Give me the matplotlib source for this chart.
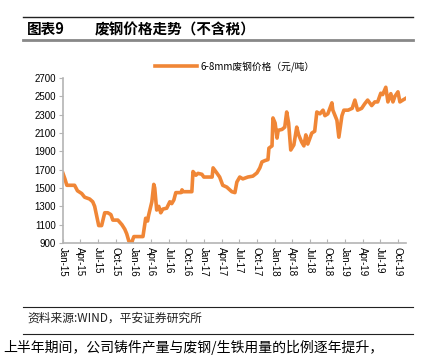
import pandas as pd
import matplotlib.pyplot as plt
import matplotlib.dates as mdates
from matplotlib.lines import Line2D

plt.rcParams['font.family'] = ['Noto Sans CJK SC', 'DejaVu Sans']

# 6-8mm scrap steel price (yuan/ton)
dates = ['2015-01-01', '2015-01-11', '2015-01-21', '2015-03-02', '2015-03-17', '2015-04-08',
         '2015-04-23', '2015-05-19', '2015-06-04', '2015-06-14', '2015-06-24', '2015-07-05',
         '2015-07-20', '2015-08-05', '2015-08-21', '2015-09-06', '2015-09-16', '2015-10-12',
         '2015-11-02', '2015-11-17', '2015-11-27', '2015-12-08', '2015-12-23', '2016-01-03',
         '2016-02-19', '2016-03-04', '2016-03-14', '2016-03-19', '2016-04-05', '2016-04-15',
         '2016-04-20', '2016-04-30', '2016-05-11', '2016-05-21', '2016-06-01', '2016-06-21',
         '2016-07-07', '2016-07-17', '2016-07-28', '2016-08-07', '2016-09-03', '2016-09-08',
         '2016-09-13', '2016-10-29', '2016-11-04', '2016-11-19', '2016-11-30', '2016-12-20',
         '2016-12-30', '2017-02-11', '2017-02-16', '2017-03-07', '2017-03-22', '2017-04-07',
         '2017-04-28', '2017-05-03', '2017-05-24', '2017-06-09', '2017-06-19', '2017-07-04',
         '2017-07-20', '2017-08-15', '2017-09-10', '2017-10-01', '2017-10-16', '2017-10-27',
         '2017-11-12', '2017-11-27', '2017-12-02', '2017-12-18', '2017-12-23', '2018-01-03',
         '2018-01-13', '2018-01-19', '2018-02-08', '2018-02-22', '2018-03-04', '2018-03-14',
         '2018-03-25', '2018-04-10', '2018-04-25', '2018-05-05', '2018-05-21', '2018-06-01',
         '2018-06-11', '2018-06-21', '2018-07-12', '2018-07-27', '2018-08-07', '2018-08-23',
         '2018-09-08', '2018-09-18', '2018-10-03', '2018-10-24', '2018-10-29', '2018-11-19',
         '2018-11-29', '2018-12-15', '2018-12-25', '2019-01-16', '2019-02-06', '2019-02-20',
         '2019-03-06', '2019-03-27', '2019-04-12', '2019-04-27', '2019-05-18', '2019-06-03',
         '2019-06-18', '2019-07-04', '2019-07-14', '2019-07-30', '2019-08-10', '2019-08-25',
         '2019-09-05', '2019-09-15', '2019-10-01', '2019-10-11', '2019-10-26', '2019-11-11']
price = [1660, 1600, 1530, 1530, 1470, 1440,
         1400, 1380, 1350, 1300, 1200, 1090,
         1090, 1230, 1230, 1210, 1150, 1150,
         1100, 1050, 1000, 920, 910, 970,
         970, 1170, 1140, 1200, 1350, 1540,
         1500, 1260, 1300, 1230, 1270, 1280,
         1350, 1330, 1370, 1450, 1450, 1480,
         1460, 1460, 1680, 1640, 1660, 1650,
         1620, 1620, 1720, 1665, 1620, 1530,
         1510, 1500, 1460, 1450, 1565, 1620,
         1600, 1620, 1630, 1665, 1720, 1785,
         1800, 1810, 1935, 1960, 2265, 2210,
         2045, 2130, 2140, 2165, 2330, 2210,
         1915, 1970, 2165, 2080, 2000, 1960,
         2080, 1980, 2100, 2120, 2330, 2310,
         2350, 2290, 2310, 2430, 2350, 2240,
         2055, 2290, 2350, 2350, 2370, 2460,
         2350, 2370, 2420, 2460, 2400, 2440,
         2440, 2535, 2520, 2600, 2440, 2530,
         2440, 2500, 2550, 2440, 2460, 2480]
yticks = [900, 1100, 1300, 1500, 1700, 1900, 2100, 2300, 2500, 2700]
series_name = '6-8mm废钢价格（元/吨）'

x = pd.to_datetime(dates)
orange = '#F08636'
gray = '#b4b4b4'

fig = plt.figure(figsize=(4.27, 3.55), dpi=100)
ax = fig.add_axes([0.1475, 0.3155, 0.8035, 0.4645])
ax.plot(x, price, color=orange, lw=2.6, solid_joinstyle='round')

ax.set_ylim(900, 2700)
ax.set_yticks(yticks)
ax.set_xlim(pd.Timestamp('2015-01-01'), pd.Timestamp('2019-11-12'))
ax.xaxis.set_major_locator(mdates.MonthLocator(bymonth=[1, 4, 7, 10]))
ax.xaxis.set_major_formatter(mdates.DateFormatter('%b-%y'))
for s in ['top', 'right']:
    ax.spines[s].set_visible(False)
for s in ['left', 'bottom']:
    ax.spines[s].set_color(gray)
    ax.spines[s].set_linewidth(1.2)
ax.tick_params(axis='x', direction='in', length=3, color=gray, labelsize=7,
               labelrotation=270, pad=3)
ax.tick_params(axis='y', direction='out', length=3, color=gray, labelsize=7, pad=2)
for lab in ax.get_xticklabels() + ax.get_yticklabels():
    lab.set_family(['Liberation Sans', 'DejaVu Sans'])

ax.legend([Line2D([0], [0], color=orange, lw=2.6)], [series_name],
          loc='center', bbox_to_anchor=(0.5, 1.07), frameon=False,
          fontsize=7, handlelength=4.4, handletextpad=0.3)

# header and footer rules
fig.add_artist(Line2D([23/427, 413/427], [1-17/355]*2, color='#222', lw=1))
fig.add_artist(Line2D([23/427, 413/427], [1-40/355]*2, color='#888', lw=2))
fig.text(27/427, 1-29/355, '图表9', fontsize=10.5, weight='bold', va='center')
fig.text(95/427, 1-29/355, '废钢价格走势（不含税）', fontsize=10.5, weight='bold', va='center')

fig.add_artist(Line2D([23/427, 413/427], [1-307/355]*2, color='#222', lw=0.8))
fig.add_artist(Line2D([23/427, 413/427], [1-334/355]*2, color='#222', lw=0.8))
fig.text(27/427, 1-318/355, '资料来源:WIND，平安证券研究所', fontsize=8.5,
         style='italic', va='center', color='#222')
fig.text(3/427, 1-347/355, '上半年期间，公司铸件产量与废钢/生铁用量的比例逐年提升，',
         fontsize=10, va='center')

fig.savefig('out.png', dpi=100)
